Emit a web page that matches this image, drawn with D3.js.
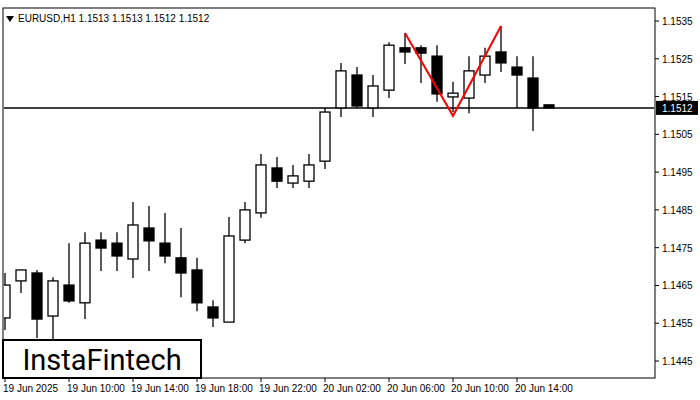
<!DOCTYPE html>
<html>
<head>
<meta charset="utf-8">
<script src="https://cdn.jsdelivr.net/npm/d3@7"></script>
<style>body{margin:0;background:#fff;}svg{display:block;font-family:"Liberation Sans",Arial,sans-serif;}</style>
</head>
<body>
<script>
var W = 700, H = 400;
var plotL = 3, plotR = 655, plotT = 8, plotB = 378;

// EURUSD H1, first bar 19 Jun 06:00
var opens  = [1.14564,1.14662,1.14683,1.14569,1.14651,1.14604,1.14770,1.14762,1.14720,1.14802,1.14762,1.14723,1.14691,1.14593,1.14553,1.14770,1.14842,1.14961,1.14921,1.14926,1.14979,1.15120,1.15207,1.15120,1.15167,1.15279,1.15279,1.15257,1.15149,1.15146,1.15207,1.15268,1.15228,1.15199,1.15128];
var highs  = [1.14683,1.14691,1.14691,1.14672,1.14762,1.14791,1.14791,1.14791,1.14871,1.14860,1.14842,1.14802,1.14723,1.14611,1.14831,1.14871,1.14998,1.14990,1.14969,1.14998,1.15120,1.15239,1.15228,1.15207,1.15294,1.15318,1.15286,1.15286,1.15189,1.15257,1.15279,1.15337,1.15257,1.15257,1.15128];
var lows   = [1.14532,1.14630,1.14511,1.14506,1.14604,1.14561,1.14688,1.14688,1.14670,1.14688,1.14709,1.14619,1.14582,1.14540,1.14553,1.14762,1.14829,1.14908,1.14908,1.14908,1.14958,1.15096,1.15120,1.15096,1.15146,1.15236,1.15186,1.15136,1.15109,1.15106,1.15186,1.15215,1.15120,1.15059,1.15120];
var closes = [1.14651,1.14691,1.14561,1.14662,1.14609,1.14762,1.14749,1.14728,1.14810,1.14768,1.14728,1.14683,1.14604,1.14564,1.14781,1.14850,1.14969,1.14926,1.14940,1.14969,1.15109,1.15218,1.15125,1.15178,1.15286,1.15268,1.15265,1.15157,1.15159,1.15218,1.15257,1.15239,1.15207,1.15120,1.15120];

var timeLabels = ["19 Jun 2025","19 Jun 10:00","19 Jun 14:00","19 Jun 18:00","19 Jun 22:00","20 Jun 02:00","20 Jun 06:00","20 Jun 10:00","20 Jun 14:00"];
var priceTicks = [1.1535,1.1525,1.1515,1.1505,1.1495,1.1485,1.1475,1.1465,1.1455,1.1445];
var patternIdx = [25, 28, 31];
var patternPrice = [1.15318, 1.15099, 1.15337];
var lastPrice = 1.1512;

var x = d3.scaleLinear().domain([0, 1]).range([5, 21]);
var y = d3.scaleLinear().domain([1.1445, 1.1535]).range([361, 21]);

var svg = d3.select("body").append("svg").attr("width", W).attr("height", H);

svg.append("rect").attr("x", plotL).attr("y", plotT).attr("width", plotR - plotL).attr("height", plotB - plotT)
  .attr("fill", "#fff").attr("stroke", "#000");

svg.append("clipPath").attr("id", "c").append("rect")
  .attr("x", plotL + 1).attr("y", plotT + 1).attr("width", plotR - plotL - 2).attr("height", plotB - plotT - 2);
var g = svg.append("g").attr("clip-path", "url(#c)");

g.append("line").attr("x1", plotL).attr("x2", plotR).attr("y1", y(lastPrice)).attr("y2", y(lastPrice))
  .attr("stroke", "#000").attr("stroke-width", 1.5);

var bars = g.selectAll("g.bar").data(opens).enter().append("g").attr("class", "bar");
bars.append("line")
  .attr("x1", function(d, i){ return x(i); }).attr("x2", function(d, i){ return x(i); })
  .attr("y1", function(d, i){ return y(highs[i]); }).attr("y2", function(d, i){ return y(lows[i]); })
  .attr("stroke", "#000").attr("stroke-width", 1.3);
bars.append("rect")
  .attr("x", function(d, i){ return x(i) - 5; })
  .attr("width", 10)
  .attr("y", function(d, i){ return y(Math.max(opens[i], closes[i])); })
  .attr("height", function(d, i){ return Math.max(1.5, Math.abs(y(opens[i]) - y(closes[i]))); })
  .attr("fill", function(d, i){ return closes[i] >= opens[i] ? "#fff" : "#000"; })
  .attr("stroke", "#000").attr("stroke-width", 1.3);

var line = d3.line().x(function(d, i){ return x(patternIdx[i]); }).y(function(d){ return y(d); });
g.append("path").attr("d", line(patternPrice)).attr("fill", "none").attr("stroke", "red").attr("stroke-width", 2);

// price axis
priceTicks.forEach(function(p){
  svg.append("line").attr("x1", plotR).attr("x2", plotR + 4).attr("y1", y(p)).attr("y2", y(p)).attr("stroke", "#000");
  svg.append("text").attr("x", plotR + 7).attr("y", y(p) + 4).attr("font-size", 10).text(p.toFixed(4));
});
svg.append("rect").attr("x", plotR + 1).attr("y", y(lastPrice) - 7).attr("width", 42).attr("height", 14).attr("fill", "#000");
svg.append("text").attr("x", plotR + 7).attr("y", y(lastPrice) + 4).attr("font-size", 10).attr("fill", "#fff").text(lastPrice.toFixed(4));

// time axis
timeLabels.forEach(function(t, k){
  var xi = x(k * 4);
  svg.append("line").attr("x1", xi).attr("x2", xi).attr("y1", plotB).attr("y2", plotB + 4).attr("stroke", "#000");
  svg.append("text").attr("x", xi - 2).attr("y", plotB + 14).attr("font-size", 10).text(t);
});

svg.append("text").attr("x", 18).attr("y", 22).attr("font-size", 10).text("EURUSD,H1  1.1513 1.1513 1.1512 1.1512");
svg.append("path").attr("d", "M6,16 L14,16 L10,22 Z").attr("fill", "#000");

svg.append("rect").attr("x", 3).attr("y", 340).attr("width", 198).attr("height", 38).attr("fill", "#fff").attr("stroke", "#000").attr("stroke-width", 2);
svg.append("text").attr("x", 102).attr("y", 370).attr("text-anchor", "middle").attr("font-size", 29)
  .attr("font-family", "Roboto, sans-serif").text("InstaFintech");
</script>
</body>
</html>
